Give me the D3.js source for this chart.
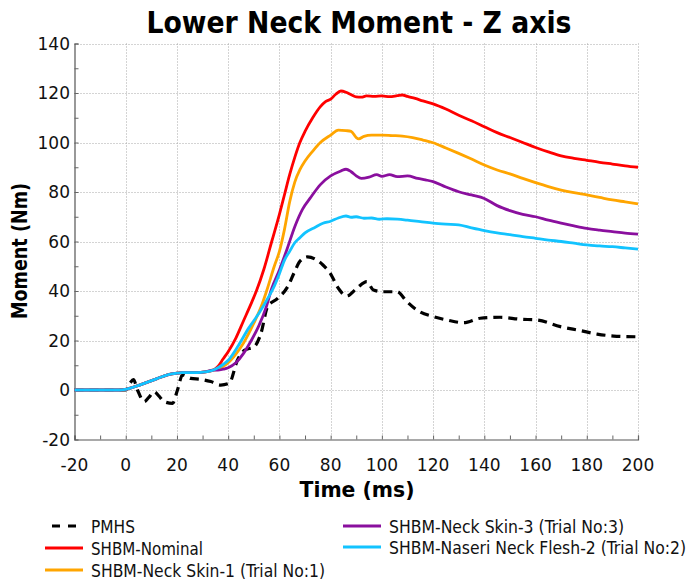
<!DOCTYPE html>
<html><head><meta charset="utf-8">
<script src="https://cdn.jsdelivr.net/npm/d3@7"></script>
<style>body{margin:0;background:#fff}svg{display:block}</style>
</head><body><svg id="c" width="690" height="584"></svg>
<script>
const xTicks = [-20,0,20,40,60,80,100,120,140,160,180,200];
const yTicks = [-20,0,20,40,60,80,100,120,140];
const seriesNames = ["PMHS","SHBM-Nominal","SHBM-Neck Skin-1 (Trial No:1)","SHBM-Neck Skin-3 (Trial No:3)","SHBM-Naseri Neck Flesh-2 (Trial No:2)"];
const seriesColors = ["#000000","#ff0000","#ffa500","#8a0f9e","#12c3ff"];

const shbmStart = [[-20,0],[-10,0],[-2,0],[0,0.3],[4,1.5],[8,3],[12,4.5],[16,6],[18,6.5],[20,6.8],[22,7],[25,7],[28,7],[31,7.3],[34,8]];

const pmhs = [[-20,0],[-5,0],[0,0],[1.7,2.8],[3,4.2],[4.6,0],[7.2,-4.7],[9,-3],[11.1,-0.7],[13,-2.5],[15,-4.7],[18.3,-5.4],[20.2,0],[22.2,6.1],[25.4,4.7],[29.3,4.3],[33.2,3.4],[37.1,2],[40.4,2.7],[43.6,12],[46.3,16],[50.2,17.5],[52.8,22.9],[55.4,33.7],[59.3,37],[63.2,41.7],[65.8,47.5],[68,52],[71,53.8],[74.6,52.5],[77,50.5],[79.8,47.2],[83,41.1],[86.3,38],[90.2,41.1],[94.1,43.8],[96.7,40.4],[100.6,39.7],[105.9,39.7],[109.8,35.7],[113.7,32.3],[120.2,29.6],[125.4,28.3],[131.9,27.2],[138.4,29],[146.2,29.4],[154,28.6],[160.5,28.3],[169.7,25.6],[177.5,24],[184,22.6],[190.5,21.8],[200,21.5]];

const nominal = [[36,9.5],[38,12.5],[40,15.5],[43,21],[46,28],[49,35],[51,40],[54,49],[57,60],[60,71],[62,79],[64,87],[66,94],[68,100],[70,104.5],[73,110],[76,114.5],[78,116.5],[80,117.5],[82,119.5],[84,120.8],[86,120.3],[88,119.3],[90,118.4],[92,118.3],[94,118.8],[97,118.6],[100,118.8],[103,118.5],[106,118.9],[108,119.2],[110,118.6],[113,117.8],[116,116.8],[120,115.6],[125,113.5],[130,111],[135,108.8],[140,106.4],[145,104],[150,102],[155,100],[160,98],[165,96.2],[170,94.6],[175,93.6],[180,92.8],[185,92],[190,91.3],[195,90.6],[200,90]];

const skin1 = [[36,8.3],[38,9.5],[40,11],[43,14.5],[46,19],[50,27],[53,34],[55,40],[58,50],[60,56],[62,65],[64,76],[66,84],[68,89],[70,92.5],[73,96.5],[76,100],[80,103],[83,105],[86,104.8],[88,104.5],[90,102],[91,101.5],[93,102.5],[96,103],[100,103],[104,102.8],[108,102.6],[112,102],[116,101],[120,99.9],[125,97.8],[130,95.6],[135,93.3],[140,90.9],[145,88.9],[150,87.3],[155,85.5],[160,83.8],[165,82.2],[170,80.8],[175,79.7],[180,78.8],[185,77.8],[190,76.8],[195,76],[200,75.2]];

const skin3 = [[36,8],[38,8.4],[40,9],[43,11],[46,14.8],[49,20],[52,26],[55,34],[57,41],[60,48.5],[63,57],[66,66],[69,73],[72,77.5],[76,83],[80,86.5],[84,88.5],[86,89.2],[88,88.2],[90,86.5],[92,85.5],[95,86],[98,87],[100,86.3],[103,87],[106,86.2],[110,86.5],[114,85.5],[117,84.9],[120,84.2],[125,82],[130,80.1],[135,78.8],[140,77.4],[145,74.5],[150,72.5],[155,71],[160,70],[165,68.6],[170,67.4],[175,66.3],[180,65.3],[185,64.6],[190,64],[195,63.4],[200,63]];

const flesh2 = [[36,9],[38,10.3],[40,12],[44,18],[48,25],[52,31],[56,38],[58,42],[60,47],[62,52.5],[64,56],[66,59.5],[68,61.5],[70,63.5],[74,65.8],[77,67.4],[80,68.2],[83,69.5],[86,70.3],[88,69.8],[90,70],[93,69.4],[96,69.5],[99,69],[102,69.2],[106,69],[110,68.6],[115,68],[120,67.4],[125,67],[130,66.7],[135,65.5],[140,64.4],[145,63.5],[150,62.8],[155,62],[160,61.3],[165,60.6],[170,60],[175,59.3],[180,58.6],[185,58.2],[190,57.9],[195,57.4],[200,56.9]];

const allSeries = [pmhs, shbmStart.concat(nominal), shbmStart.concat(skin1), shbmStart.concat(skin3), shbmStart.concat(flesh2)];

const svg = d3.select("#c");
const L=74.5, R=638, T=43.5, B=439.5;
const x = d3.scaleLinear().domain([-20,200]).range([L,R]);
const y = d3.scaleLinear().domain([-20,140]).range([B,T]);
const tickFont = "'DejaVu Sans', sans-serif";

// grid
const grid = svg.append("g").attr("stroke","#a8a8a8").attr("stroke-width",1).attr("stroke-dasharray","1,2");
xTicks.slice(1).forEach(t=>grid.append("line").attr("x1",Math.round(x(t))+0.5).attr("x2",Math.round(x(t))+0.5).attr("y1",T).attr("y2",B));
yTicks.slice(1).forEach(t=>grid.append("line").attr("y1",Math.round(y(t))+0.5).attr("y2",Math.round(y(t))+0.5).attr("x1",L).attr("x2",R));

// axes
const xAxis = d3.axisBottom(x).tickValues(d3.range(-20,201,10)).tickSize(-4).tickFormat("");
const yAxis = d3.axisLeft(y).tickValues(d3.range(-20,141,10)).tickSize(-4).tickFormat("");
const gx = svg.append("g").attr("transform",`translate(0,${B})`).call(xAxis);
const gy = svg.append("g").attr("transform",`translate(${L},0)`).call(yAxis);
[gx,gy].forEach(g=>{g.select(".domain").attr("stroke","#555").attr("stroke-width",1.2);g.selectAll(".tick line").attr("stroke","#666");});
gy.selectAll(".tick line").filter(d=>d===-20).remove();

svg.append("g").selectAll("text").data(xTicks).join("text")
  .attr("x",d=>x(d)).attr("y",471).attr("text-anchor","middle")
  .attr("font-family",tickFont).attr("font-size",17).attr("fill","#111").text(d=>d);
svg.append("g").selectAll("text").data(yTicks).join("text")
  .attr("x",70).attr("y",d=>y(d)+6).attr("text-anchor","end")
  .attr("font-family",tickFont).attr("font-size",17).attr("fill","#111").text(d=>d);

// lines
const line = d3.line().x(d=>x(d[0])).y(d=>y(d[1])).curve(d3.curveMonotoneX);
const lg = svg.append("g");
allSeries.forEach((s,i)=>{
  lg.append("path").datum(s).attr("d",line).attr("fill","none")
    .attr("stroke",seriesColors[i]).attr("stroke-width",i===0?3.2:2.8)
    .attr("stroke-dasharray",i===0?"9,6":null).attr("stroke-linejoin","round");
});

// title & labels
svg.append("text").attr("x",359).attr("y",33).attr("text-anchor","middle")
  .attr("font-family","'DejaVu Sans Condensed','DejaVu Sans',sans-serif").attr("font-weight","bold")
  .attr("font-size",30).attr("textLength",425).attr("lengthAdjust","spacingAndGlyphs").text("Lower Neck Moment - Z axis");
svg.append("text").attr("x",357).attr("y",497).attr("text-anchor","middle")
  .attr("font-family","'DejaVu Sans Condensed','DejaVu Sans',sans-serif").attr("font-weight","bold")
  .attr("font-size",21).attr("textLength",115).attr("lengthAdjust","spacingAndGlyphs").text("Time (ms)");
svg.append("text").attr("transform","translate(27,251) rotate(-90)").attr("text-anchor","middle")
  .attr("font-family","'DejaVu Sans Condensed','DejaVu Sans',sans-serif").attr("font-weight","bold")
  .attr("font-size",22).attr("textLength",136).attr("lengthAdjust","spacingAndGlyphs").text("Moment (Nm)");

// legend
const legendPos = [[45,526],[45,548],[45,570],[343,526],[343,547]];
const legendWidths = [44,112,234,235,297];
const leg = svg.append("g");
seriesNames.forEach((n,i)=>{
  const [lx,ly]=legendPos[i];
  if(i===0){
    leg.append("line").attr("x1",lx+7).attr("x2",lx+32).attr("y1",ly).attr("y2",ly)
      .attr("stroke","#000").attr("stroke-width",3.2).attr("stroke-dasharray","8,8");
  } else {
    leg.append("line").attr("x1",lx).attr("x2",lx+38).attr("y1",ly).attr("y2",ly)
      .attr("stroke",seriesColors[i]).attr("stroke-width",3);
  }
  leg.append("text").attr("x",lx+46).attr("y",ly+6.5)
    .attr("font-family","'DejaVu Sans Condensed','DejaVu Sans',sans-serif").attr("font-size",17)
    .attr("fill","#111").attr("textLength",legendWidths[i]).attr("lengthAdjust","spacingAndGlyphs").text(n);
});
</script></body></html>
